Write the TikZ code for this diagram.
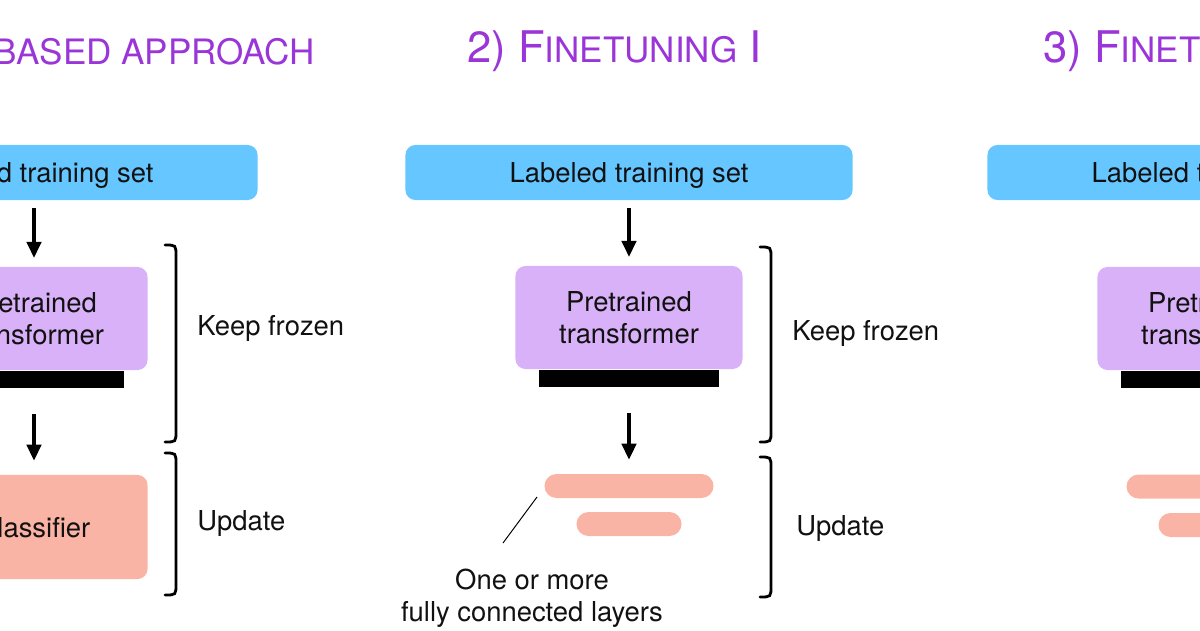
\documentclass[tikz,border=0pt]{standalone}
\usepackage{fontspec}
\setmainfont{TeX Gyre Heros}
\usepackage{xcolor}
\usetikzlibrary{arrows.meta,positioning,calc}
\definecolor{Ink}{HTML}{111111}
\definecolor{Headline}{HTML}{9A36D8}
\definecolor{SetBlue}{HTML}{66C6FF}
\definecolor{Lilac}{HTML}{D8B1F8}
\definecolor{Salmon}{HTML}{FAB4A5}
\newcommand{\lowcap}[1]{{\fontsize{24.9}{28}\selectfont #1}}

\begin{document}
\begin{tikzpicture}[x=0.025cm,y=-0.025cm,
  every node/.style={text=Ink,font=\fontsize{19.5}{23}\selectfont},
  heading/.style={text=Headline,font=\fontsize{31}{34}\selectfont,inner sep=0pt},
  dataset/.style={fill=SetBlue,rounded corners=0.25cm,minimum width=11.175cm,
    minimum height=1.375cm,inner sep=0pt,text depth=0pt},
  model/.style={fill=Lilac,rounded corners=0.25cm,minimum width=5.675cm,
    minimum height=2.575cm,align=center,inner sep=0pt},
  stand/.style={fill=black,minimum width=4.5cm,minimum height=0.425cm,inner sep=0pt},
  clf/.style={fill=Salmon,rounded corners=0.25cm,minimum width=5.675cm,
    minimum height=2.6cm,inner sep=0pt},
  fc/.style={fill=Salmon,rounded corners=0.3cm,minimum height=0.6cm,inner sep=0pt},
  flow/.style={-{Triangle[length=0.4cm,width=0.36cm]},line width=0.08cm},
  brk/.style={line width=0.07cm,line cap=round},
  note/.style={anchor=west,inner sep=0pt}]
  \clip (0,0) rectangle (1200,630);

  % 1) feature-based
  \node[heading,anchor=base east] (t1) at (315,65) {\lowcap{BASED APPROACH}};
  \node[dataset] (d1) at (34,172.5) {Labeled training set};
  \node[model] (m1) at (34,318.5) {Pretrained\\transformer};
  \node[stand,below=0pt of m1] (s1) {};
  \node[clf] (c1) at (34,527) {Classifier};
  \draw[flow,shorten <=0.2cm,shorten >=0.22cm] (d1) -- (m1);
  \draw[flow,shorten <=0.65cm,shorten >=0.35cm] (s1) -- (c1);
  \draw[brk] (165,245) .. controls (176,245) .. (176,256) -- (176,431)
    .. controls (176,442) .. (165,442);
  \draw[brk] (165,453) .. controls (176,453) .. (176,464) -- (176,584)
    .. controls (176,595) .. (165,595);
  \node[note] (k1) at (197,328) {Keep frozen};
  \node[note] (u1) at (197,523) {Update};

  % 2) finetuning I
  \node[heading,anchor=base west] (t2) at (467,63) {2) F\lowcap{INETUNING} I};
  \node[dataset] (d2) at (629,172.5) {Labeled training set};
  \node[model] (m2) at (629,317.5) {Pretrained\\transformer};
  \node[stand,below=0pt of m2] (s2) {};
  \node[fc,minimum width=4.225cm] (f2a) at (629,486) {};
  \node[fc,minimum width=2.625cm] (f2b) at (629,524) {};
  \draw[flow,shorten <=0.2cm,shorten >=0.22cm] (d2) -- (m2);
  \draw[flow,shorten <=0.65cm,shorten >=0.35cm] (s2) -- (f2a);
  \draw[brk] (760,247) .. controls (771,247) .. (771,258) -- (771,431)
    .. controls (771,442) .. (760,442);
  \draw[brk] (760,457) .. controls (771,457) .. (771,468) -- (771,586)
    .. controls (771,597) .. (760,597);
  \node[note] (k2) at (792,333) {Keep frozen};
  \node[note] (u2) at (796,528) {Update};
  \node[align=center] (l2) at (532,598) {One or more\\fully connected layers};
  \coordinate (p2) at (537,497);
  \coordinate (q2) at (503,543);
  \draw[line width=0.7pt] (p2) -- (q2);

  % 3) finetuning II
  \node[heading,anchor=base west] (t3) at (1043,63) {3) F\lowcap{INETUNING} II};
  \node[dataset] (d3) at (1211,172.5) {Labeled training set};
  \node[model] (m3) at (1211,318.5) {Pretrained\\transformer};
  \node[stand,below=0pt of m3] (s3) {};
  \node[fc,minimum width=4.225cm] (f3a) at (1211,486.5) {};
  \node[fc,minimum width=2.625cm] (f3b) at (1211,525) {};
\end{tikzpicture}
\end{document}
